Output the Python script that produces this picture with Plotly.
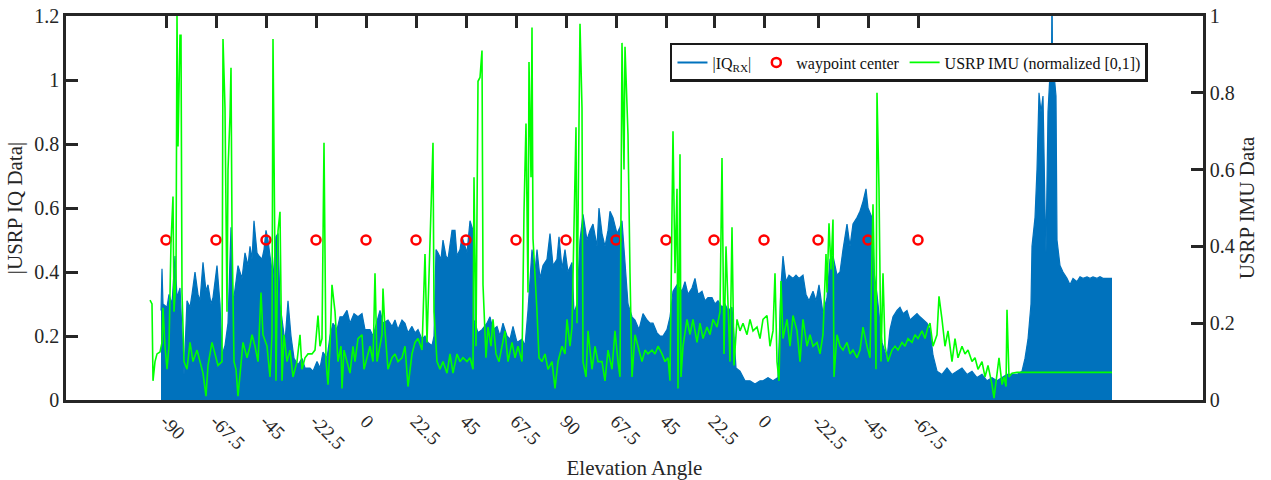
import plotly.graph_objects as go

# ---------------- data (sample index) ----------------
iq_t = [95, 96, 97, 101, 103, 106, 109, 111, 114, 116, 118, 121, 124, 126, 129, 132, 134, 137, 140, 142,
        145, 147, 151, 154, 156, 159, 162, 165, 167, 170, 172, 176, 179, 182, 184, 186, 188, 191, 193, 196,
        198, 200, 202, 204, 207, 210, 212, 214, 216, 219, 222, 225, 228, 232, 236, 239, 244, 247, 251, 254,
        257, 261, 264, 267, 271, 274, 277, 281, 284, 288, 292, 296, 299, 304, 307, 311, 314, 317, 322, 326,
        329, 332, 336, 339, 342, 346, 349, 352, 356, 359, 362, 366, 368, 370, 372, 375, 377, 380, 382, 386,
        389, 391, 394, 396, 399, 401, 404, 407, 408, 412, 416, 421, 424, 427, 431, 434, 437, 441, 444, 447,
        451, 456, 459, 462, 466, 469, 471, 474, 477, 481, 484, 487, 491, 493, 496, 499, 502, 506, 508, 511,
        514, 517, 521, 524, 527, 531, 533, 536, 539, 542, 544, 547, 551, 554, 556, 559, 562, 566, 569, 573,
        577, 581, 584, 587, 591, 594, 597, 601, 604, 607, 611, 616, 619, 622, 626, 629, 632, 636, 639, 642,
        646, 649, 652, 656, 659, 662, 666, 667, 670, 674, 679, 684, 689, 694, 697, 702, 707, 712, 715, 717,
        720, 723, 727, 730, 733, 737, 740, 743, 747, 750, 753, 757, 761, 764, 767, 771, 774, 777, 781, 784,
        787, 791, 794, 797, 800, 802, 806, 808, 811, 816, 821, 824, 827, 831, 834, 837, 841, 844, 847, 851,
        854, 857, 861, 864, 867, 871, 876, 881, 886, 891, 896, 901, 906, 911, 916, 921, 926, 931, 936, 941,
        946, 951, 956, 959, 962, 965, 966, 969, 971, 973, 975, 977, 979, 980, 982, 984, 985.5, 986, 986.5, 988,
        990, 991, 994, 997, 1001, 1004, 1007, 1011, 1014, 1017, 1021, 1024, 1027, 1031, 1034, 1037, 1041, 1045, 1046]
iq_val = [0.28, 0.41, 0.30, 0.29, 0.33, 0.30, 0.45, 0.32, 0.35, 0.20, 0.08, 0.31, 0.29, 0.33, 0.40, 0.33, 0.31, 0.43, 0.34, 0.36,
          0.30, 0.32, 0.42, 0.30, 0.14, 0.17, 0.24, 0.54, 0.30, 0.37, 0.42, 0.38, 0.46, 0.42, 0.48, 0.44, 0.56, 0.46, 0.45, 0.44,
          0.47, 0.53, 0.50, 0.45, 0.38, 0.51, 0.52, 0.30, 0.25, 0.18, 0.31, 0.20, 0.13, 0.11, 0.13, 0.10, 0.10, 0.09, 0.12, 0.10,
          0.15, 0.13, 0.20, 0.24, 0.22, 0.26, 0.26, 0.28, 0.24, 0.27, 0.26, 0.27, 0.22, 0.22, 0.20, 0.25, 0.28, 0.24, 0.25, 0.23,
          0.25, 0.22, 0.25, 0.24, 0.21, 0.23, 0.21, 0.22, 0.19, 0.20, 0.18, 0.17, 0.20, 0.47, 0.46, 0.44, 0.50, 0.45, 0.44, 0.53,
          0.53, 0.45, 0.47, 0.51, 0.48, 0.46, 0.56, 0.53, 0.25, 0.21, 0.22, 0.24, 0.26, 0.22, 0.23, 0.20, 0.24, 0.20, 0.19, 0.23,
          0.18, 0.19, 0.17, 0.28, 0.47, 0.40, 0.47, 0.38, 0.42, 0.44, 0.52, 0.42, 0.44, 0.51, 0.41, 0.47, 0.40, 0.43, 0.27, 0.30,
          0.50, 0.58, 0.50, 0.53, 0.55, 0.48, 0.60, 0.52, 0.48, 0.53, 0.59, 0.57, 0.52, 0.54, 0.56, 0.42, 0.30, 0.26, 0.25, 0.22,
          0.27, 0.25, 0.24, 0.24, 0.21, 0.20, 0.20, 0.22, 0.26, 0.34, 0.36, 0.34, 0.37, 0.33, 0.35, 0.38, 0.33, 0.34, 0.31, 0.32,
          0.32, 0.30, 0.31, 0.29, 0.30, 0.28, 0.29, 0.25, 0.10, 0.09, 0.06, 0.06, 0.05, 0.06, 0.06, 0.07, 0.06, 0.07, 0.36, 0.45,
          0.37, 0.39, 0.38, 0.39, 0.38, 0.39, 0.33, 0.31, 0.34, 0.31, 0.36, 0.27, 0.32, 0.44, 0.45, 0.39, 0.40, 0.47, 0.55, 0.48,
          0.55, 0.57, 0.59, 0.62, 0.66, 0.60, 0.57, 0.40, 0.33, 0.18, 0.13, 0.22, 0.26, 0.28, 0.29, 0.27, 0.28, 0.25, 0.26, 0.27,
          0.26, 0.25, 0.24, 0.22, 0.14, 0.09, 0.08, 0.10, 0.08, 0.09, 0.10, 0.08, 0.09, 0.07, 0.08, 0.06, 0.07, 0.06, 0.07, 0.08,
          0.08, 0.08, 0.09, 0.13, 0.19, 0.30, 0.48, 0.57, 0.72, 0.96, 0.90, 0.95, 0.60, 0.46, 0.90, 1.02, 1.04, 1.30, 1.05, 1.02,
          0.95, 0.50, 0.42, 0.40, 0.38, 0.36, 0.38, 0.37, 0.385, 0.38, 0.385, 0.38, 0.385, 0.38, 0.385, 0.38, 0.38, 0.38, 0.38]

imu_t = [84, 86, 87, 89, 91, 94, 96, 97, 99, 101, 103, 105, 107, 108, 110, 111, 112, 114, 115, 116,
         118, 121, 124, 127, 131, 134, 137, 140, 142, 146, 149, 152, 156, 157, 159, 161, 162, 164, 165, 166,
         168, 170, 172, 175, 177, 181, 184, 186, 189, 192, 195, 197, 201, 204, 206, 207, 208, 210, 212, 214,
         216, 218, 221, 224, 227, 231, 234, 236, 239, 242, 246, 249, 252, 254, 256, 258, 260, 262, 264, 266,
         269, 272, 275, 276, 278, 281, 284, 287, 289, 292, 296, 298, 301, 304, 307, 309, 311, 313, 316, 317,
         319, 322, 326, 329, 332, 336, 339, 342, 346, 349, 352, 356, 359, 361, 363, 365, 367, 368, 371, 374,
         377, 381, 384, 387, 391, 394, 397, 401, 404, 407, 408, 410, 412, 414, 416, 417, 420, 422, 425, 427,
         430, 433, 437, 439, 442, 446, 449, 452, 456, 458, 460, 462, 463, 465, 466, 467, 471, 473, 476, 479,
         482, 486, 489, 492, 496, 499, 501, 504, 506, 508, 510, 511, 513, 514, 516, 517, 520, 522, 526, 529,
         532, 536, 539, 542, 546, 549, 552, 554, 556, 558, 559, 561, 562, 564, 566, 569, 572, 576, 579, 582,
         586, 589, 592, 596, 599, 602, 604, 606, 607, 609, 611, 612, 614, 615, 617, 621, 624, 627, 631, 634,
         637, 641, 644, 647, 651, 654, 656, 658, 660, 662, 664, 666, 668, 671, 674, 677, 681, 684, 687, 691,
         694, 697, 701, 704, 707, 709, 711, 713, 715, 717, 721, 724, 727, 731, 734, 737, 741, 744, 747, 751,
         754, 757, 760, 761, 763, 765, 767, 768, 771, 774, 777, 781, 784, 787, 791, 794, 797, 801, 804, 807,
         810, 811, 813, 815, 817, 819, 822, 826, 829, 832, 836, 839, 842, 846, 849, 852, 856, 859, 862, 864,
         867, 871, 873, 876, 879, 882, 886, 889, 892, 896, 899, 902, 906, 909, 912, 916, 919, 922, 926, 928,
         931, 933, 936, 938, 940, 941, 943, 946, 951, 957, 974, 994, 1014, 1034, 1046]
imu_val = [0.26, 0.25, 0.05, 0.10, 0.12, 0.125, 0.15, 0.24, 0.14, 0.08, 0.14, 0.41, 0.53, 0.23, 0.32, 1.0, 0.66, 0.95, 0.95, 0.28,
           0.10, 0.08, 0.15, 0.10, 0.13, 0.10, 0.07, 0.01, 0.09, 0.15, 0.12, 0.09, 0.10, 0.94, 0.76, 0.23, 0.60, 0.74, 0.865, 0.44,
           0.10, 0.08, 0.01, 0.10, 0.15, 0.11, 0.14, 0.17, 0.14, 0.10, 0.28, 0.17, 0.14, 0.06, 0.17, 0.94, 0.55, 0.05, 0.44, 0.49,
           0.05, 0.17, 0.10, 0.13, 0.06, 0.10, 0.17, 0.08, 0.11, 0.12, 0.12, 0.13, 0.22, 0.14, 0.16, 0.67, 0.10, 0.04, 0.14, 0.30,
           0.23, 0.10, 0.14, 0.03, 0.13, 0.10, 0.07, 0.14, 0.10, 0.16, 0.17, 0.08, 0.11, 0.14, 0.10, 0.33, 0.10, 0.13, 0.17, 0.29,
           0.18, 0.08, 0.11, 0.12, 0.10, 0.11, 0.14, 0.035, 0.12, 0.15, 0.16, 0.13, 0.38, 0.15, 0.31, 0.49, 0.67, 0.23, 0.10, 0.08,
           0.10, 0.07, 0.12, 0.07, 0.12, 0.10, 0.11, 0.10, 0.11, 0.08, 0.58, 0.14, 0.83, 0.84, 0.91, 0.30, 0.11, 0.19, 0.14, 0.21,
           0.12, 0.10, 0.16, 0.18, 0.10, 0.15, 0.11, 0.14, 0.10, 0.49, 0.72, 0.28, 0.88, 0.58, 0.97, 0.42, 0.23, 0.11, 0.10, 0.12,
           0.08, 0.10, 0.03, 0.10, 0.14, 0.12, 0.21, 0.14, 0.19, 0.41, 0.71, 0.20, 0.67, 0.98, 0.76, 0.10, 0.06, 0.18, 0.08, 0.14,
           0.10, 0.10, 0.05, 0.13, 0.08, 0.18, 0.10, 0.06, 0.93, 0.60, 0.92, 0.79, 0.69, 0.33, 0.06, 0.17, 0.14, 0.10, 0.13, 0.12,
           0.13, 0.12, 0.14, 0.12, 0.10, 0.11, 0.05, 0.625, 0.70, 0.33, 0.55, 0.03, 0.64, 0.06, 0.14, 0.21, 0.17, 0.21, 0.15, 0.20,
           0.16, 0.19, 0.17, 0.21, 0.19, 0.23, 0.63, 0.12, 0.40, 0.25, 0.10, 0.45, 0.09, 0.21, 0.18, 0.20, 0.17, 0.21, 0.18, 0.19,
           0.16, 0.21, 0.22, 0.14, 0.18, 0.33, 0.10, 0.05, 0.31, 0.16, 0.21, 0.14, 0.22, 0.18, 0.10, 0.21, 0.14, 0.17, 0.14, 0.15,
           0.12, 0.17, 0.38, 0.28, 0.46, 0.34, 0.47, 0.06, 0.17, 0.14, 0.13, 0.15, 0.12, 0.13, 0.11, 0.13, 0.19, 0.14, 0.11, 0.51,
           0.08, 0.80, 0.55, 0.10, 0.33, 0.14, 0.10, 0.13, 0.14, 0.13, 0.15, 0.14, 0.16, 0.15, 0.17, 0.16, 0.18, 0.16, 0.19, 0.20,
           0.14, 0.17, 0.27, 0.21, 0.14, 0.18, 0.10, 0.16, 0.11, 0.14, 0.12, 0.13, 0.10, 0.11, 0.08, 0.10, 0.06, 0.09, 0.04, 0.005,
           0.06, 0.11, 0.04, 0.06, 0.035, 0.235, 0.06, 0.07, 0.072, 0.072, 0.073, 0.073, 0.073, 0.072, 0.072]

waypoint_t = [100, 150, 200, 250, 300, 350, 400, 450, 500, 550, 600, 648, 698, 752, 802, 852]
waypoint_level = [0.5] * len(waypoint_t)
angle_labels = ["-90", "-67.5", "-45", "-22.5", "0", "22.5", "45", "67.5", "90",
                "67.5", "45", "22.5", "0", "-22.5", "-45", "-67.5"]

# ---------------- figure ----------------
FONT = "Liberation Serif"
AX = "#262626"
BLUE = "#0072BD"

fig = go.Figure()
# filled |IQ| envelope (legend shown through a line-only legend entry below)
fig.add_trace(go.Scatter(
    x=iq_t, y=iq_val, mode="lines", name="|IQ<sub>RX</sub>|",
    line=dict(color=BLUE, width=1.2), fill="tozeroy", fillcolor=BLUE,
    showlegend=False, yaxis="y"))
fig.add_trace(go.Scatter(
    x=[None], y=[None], mode="lines", name="|IQ<sub>RX</sub>|",
    line=dict(color=BLUE, width=2), legendrank=1, yaxis="y"))
fig.add_trace(go.Scatter(
    x=waypoint_t, y=waypoint_level, mode="markers", name="waypoint center",
    marker=dict(symbol="circle-open", size=9, color="#FF0000", line=dict(width=2.5, color="#FF0000")),
    legendrank=2, yaxis="y"))
fig.add_trace(go.Scatter(
    x=imu_t, y=imu_val, mode="lines", name="USRP IMU (normalized [0,1])",
    line=dict(color="#00FF00", width=1.6), legendrank=3, yaxis="y2"))

fig.update_layout(
    template="none",
    width=1271, height=480,
    margin=dict(l=66, r=68, t=16, b=80),
    paper_bgcolor="white", plot_bgcolor="white",
    font=dict(family=FONT, size=20, color=AX),
    showlegend=True,
    legend=dict(orientation="h", x=0.9516, xanchor="right", y=0.9297, yanchor="top",
                bgcolor="white", bordercolor="#1a1a1a", borderwidth=2.5,
                font=dict(family=FONT, size=16, color="#111111"), itemwidth=30,
                tracegroupgap=0),
    xaxis=dict(range=[0, 1137], tickmode="array", tickvals=waypoint_t, ticktext=angle_labels,
               tickangle=45, ticks="inside", ticklen=12, tickwidth=2.5, tickcolor=AX,
               showline=True, linewidth=2.5, linecolor=AX, mirror="ticks",
               showgrid=False, zeroline=False, layer="below traces",
               tickfont=dict(family=FONT, size=19, color=AX),
               title=dict(text="Elevation Angle", font=dict(family=FONT, size=21, color=AX), standoff=8),
               automargin=False),
    yaxis=dict(range=[0, 1.2], tickvals=[0, 0.2, 0.4, 0.6, 0.8, 1.0, 1.2],
               ticktext=["0", "0.2", "0.4", "0.6", "0.8", "1", "1.2"],
               ticks="inside", ticklen=12, tickwidth=2.5, tickcolor=AX,
               showline=True, linewidth=2.5, linecolor=AX, mirror=False,
               showgrid=False, zeroline=False,
               tickfont=dict(family=FONT, size=20, color=AX),
               title=dict(text="|USRP IQ Data|", font=dict(family=FONT, size=21, color=AX), standoff=6),
               automargin=False),
    yaxis2=dict(range=[0, 1], overlaying="y", side="right",
                tickvals=[0, 0.2, 0.4, 0.6, 0.8, 1.0], ticktext=["0", "0.2", "0.4", "0.6", "0.8", "1"],
                ticks="inside", ticklen=12, tickwidth=2.5, tickcolor=AX,
                showline=True, linewidth=2.5, linecolor=AX,
                showgrid=False, zeroline=False,
                tickfont=dict(family=FONT, size=20, color=AX),
                title=dict(text="USRP IMU Data", font=dict(family=FONT, size=21, color=AX), standoff=6),
                automargin=False),
)

fig.write_html("out.html")
